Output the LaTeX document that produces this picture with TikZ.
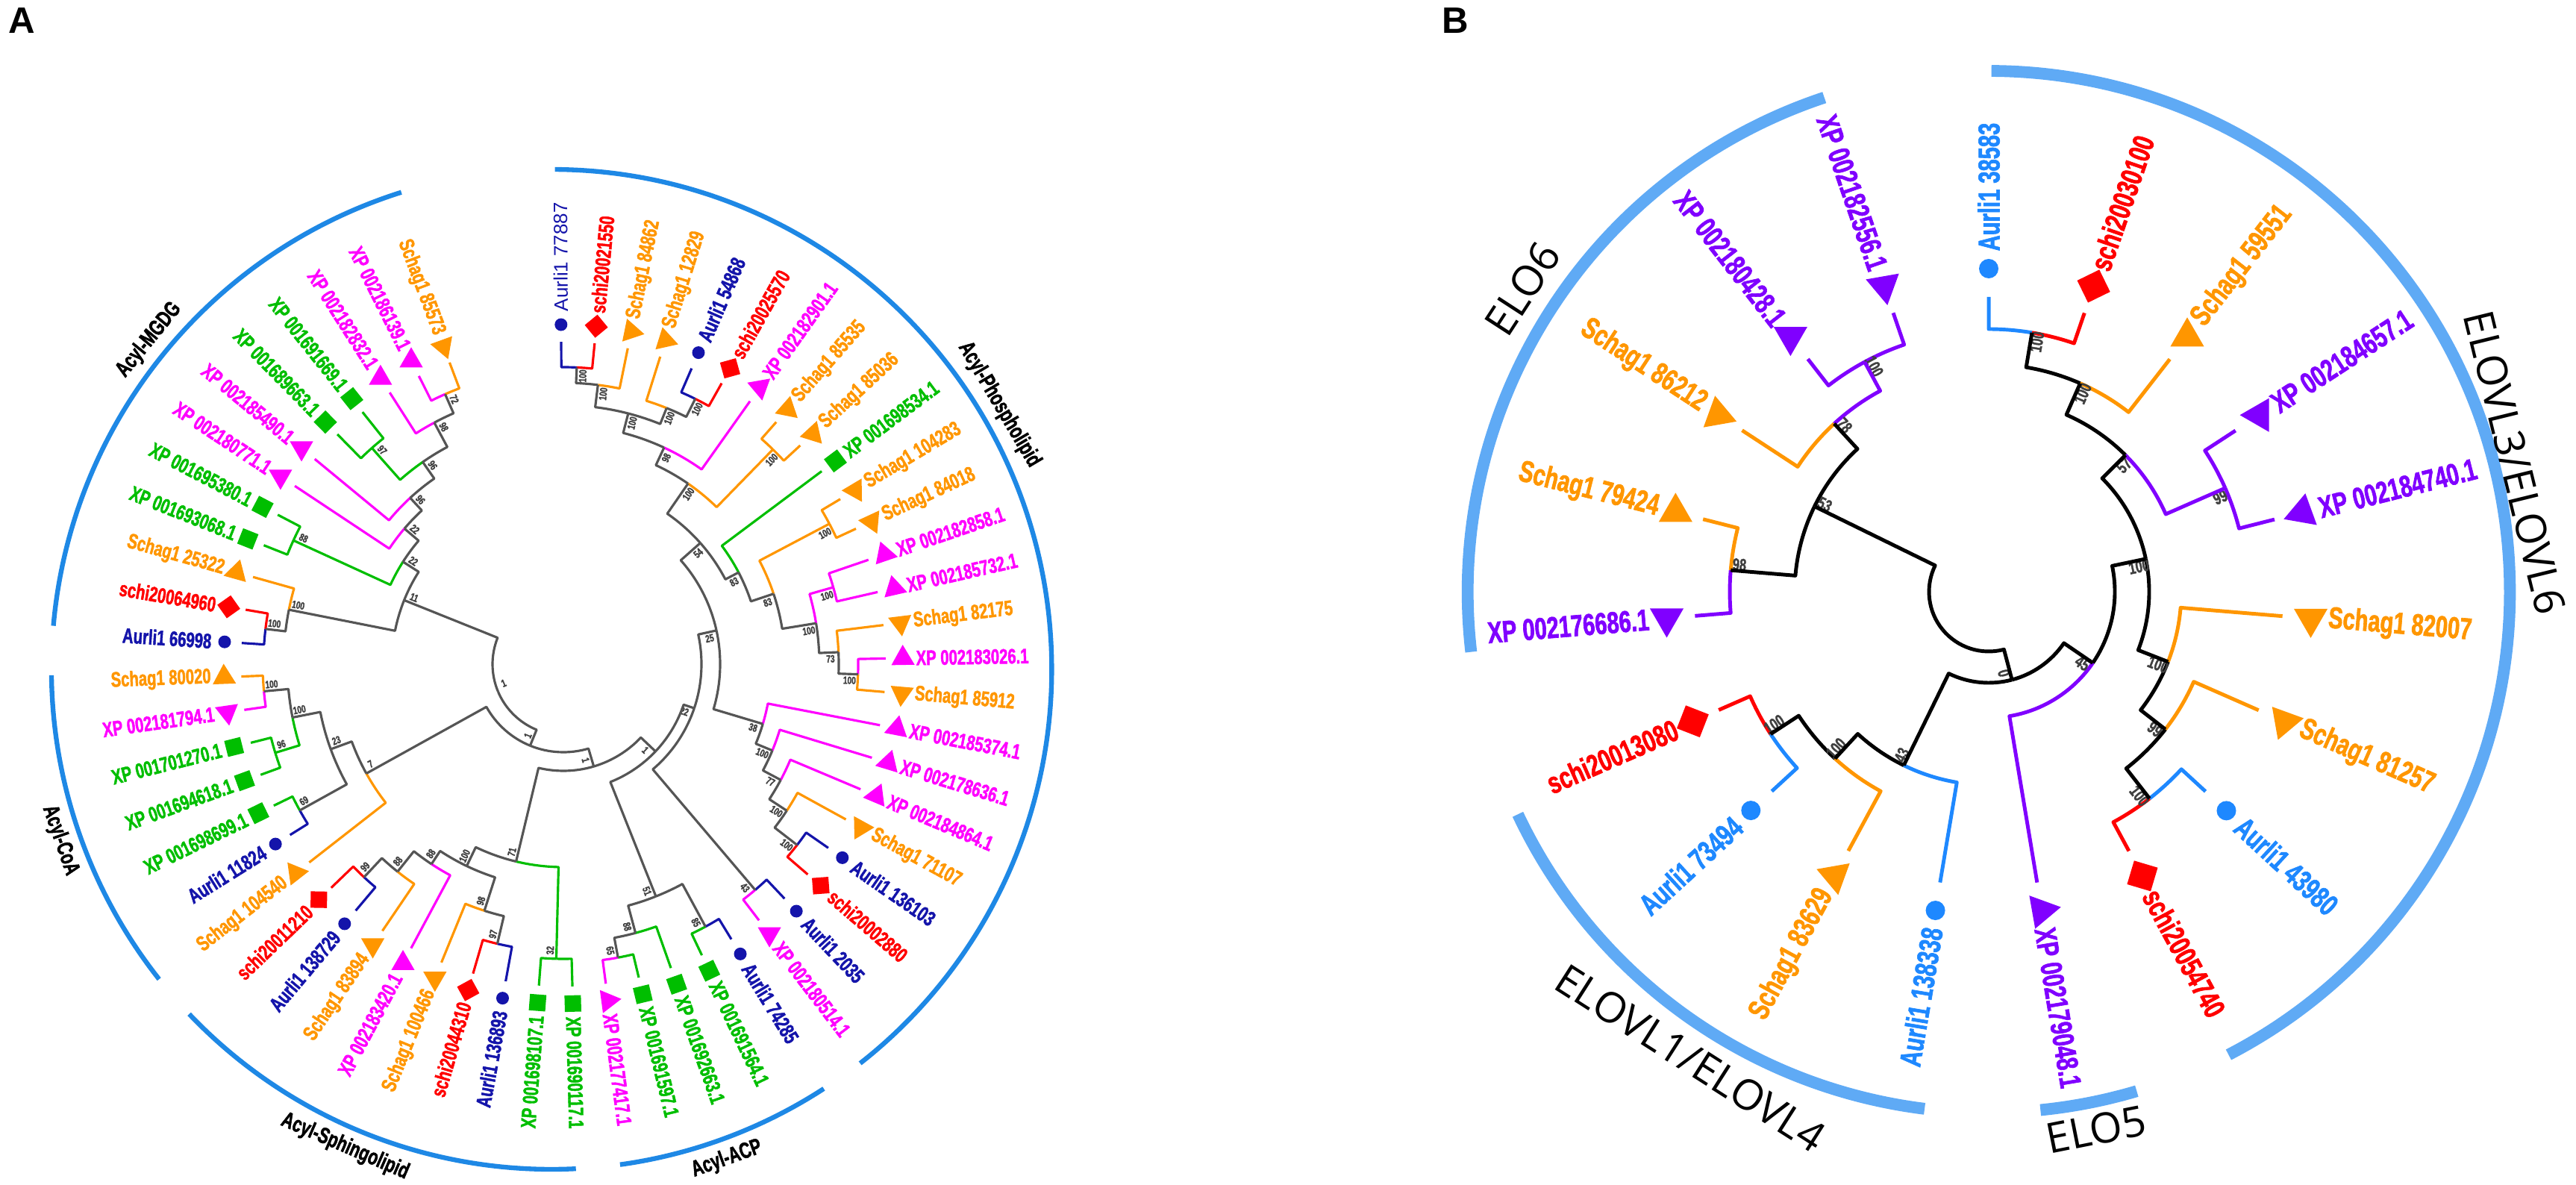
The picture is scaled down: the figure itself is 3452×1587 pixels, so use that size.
\documentclass[tikz,border=0pt]{standalone}
\usepackage{fontspec}
\usetikzlibrary{shapes.geometric}
\newfontfamily\lf[FakeStretch=0.72, BoldFeatures={FakeBold=1.6}]{Liberation Sans}
\newfontfamily\rfont{Liberation Sans}
\newfontfamily\of{Open Sans}

\definecolor{nb}{RGB}{20,20,170}
\definecolor{rd}{RGB}{255,0,0}
\definecolor{og}{RGB}{255,150,0}
\definecolor{mg}{RGB}{255,0,255}
\definecolor{gn}{RGB}{0,190,0}
\definecolor{gy}{RGB}{85,85,85}
\definecolor{k}{RGB}{0,0,0}
\definecolor{bb}{RGB}{30,136,255}
\definecolor{pu}{RGB}{128,0,255}
\definecolor{barA}{RGB}{30,136,229}
\definecolor{barB}{RGB}{95,170,245}

\tikzset{
  dot/.style={circle, inner sep=0pt, minimum size=0.17cm},
  sq/.style={rectangle, inner sep=0pt, minimum size=0.22cm},
  tri/.style={regular polygon, regular polygon sides=3, inner sep=0pt, minimum size=0.36cm},
  lab/.style={inner sep=0pt, font=\lf\bfseries\fontsize{8}{8}\selectfont},
  bs/.style={inner sep=0pt, text=black!75, font=\lf\bfseries\fontsize{4}{4}\selectfont},
  br/.style={line width=0.9pt, line join=round},
  cbar/.style={line width=1.8pt},
  clab/.style={inner sep=0pt, font=\lf\bfseries\fontsize{8.5}{8.5}\selectfont}
}

% node: radius, angle1, r1, colour1, angle2, r2, colour2, bootstrap, name
\newcommand\nd[9]{%
  \pgfmathsetmacro\ndm{(#2+#5)/2}%
  \expandafter\xdef\csname nd@#9\endcsname{\ndm}%
  \draw[br,#4] (#2:#3) -- (#2:#1) arc[start angle=#2,end angle=\ndm,radius=#1*0.01cm];
  \draw[br,#7] (#5:#6) -- (#5:#1) arc[start angle=#5,end angle=\ndm,radius=#1*0.01cm];
  \pgfmathsetmacro\ndr{cos(\ndm)<0 ? \ndm+180 : \ndm}%
  \node[bs,rotate=\ndr] at ({\ndm-500/#1}:{#1-11}) {#8};
}
\newcommand\n[1]{\csname nd@#1\endcsname}
\newcommand\La[1]{\csname a@#1\endcsname}
\newcommand\Lb[1]{\csname b@#1\endcsname}

\begin{document}
\begin{tikzpicture}[x=0.01cm,y=0.01cm]
\useasboundingbox (0,0) rectangle (3452,1587);
\foreach \i in {1,...,58}{\pgfmathsetmacro\t{90.4-5.96*(\i-1)}\expandafter\xdef\csname a@\i\endcsname{\t}}
\foreach \i in {1,...,19}{\pgfmathsetmacro\t{90-18.95*(\i-1)}\expandafter\xdef\csname b@\i\endcsname{\t}}

\node[font=\rfont\bfseries\fontsize{14}{14}\selectfont] (pa) at (29,1559) {A};
\node[font=\rfont\bfseries\fontsize{14}{14}\selectfont] (pb) at (1950,1559) {B};

% ---- panel A ----
\begin{scope}[shift={(755,697)}]
% Acyl-Phospholipid
\nd{398}{\La{1}}{432}{nb}{\La{2}}{432}{rd}{100}{p12}
\nd{377}{\n{p12}}{398}{gy}{\La{3}}{432}{og}{100}{p123}
\nd{397}{\La{5}}{432}{nb}{\La{6}}{432}{rd}{100}{p56}
\nd{370}{\La{4}}{432}{og}{\n{p56}}{397}{gy}{100}{p456}
\nd{347}{\n{p123}}{377}{gy}{\n{p456}}{370}{gy}{100}{p3}
\nd{320}{\n{p3}}{347}{gy}{\La{7}}{432}{mg}{98}{p4}
\nd{402}{\La{8}}{432}{og}{\La{9}}{432}{og}{100}{p89}
\nd{294}{\n{p4}}{320}{gy}{\n{p89}}{402}{og}{100}{p5}
\nd{395}{\La{16}}{432}{mg}{\La{17}}{432}{og}{100}{q1617}
\nd{369}{\La{15}}{432}{og}{\n{q1617}}{395}{gy}{73}{q15}
\nd{376}{\La{13}}{432}{mg}{\La{14}}{432}{mg}{100}{q1314}
\nd{343}{\n{q1314}}{376}{mg}{\n{q15}}{369}{gy}{100}{q3}
\nd{403}{\La{11}}{432}{og}{\La{12}}{432}{og}{100}{q1112}
\nd{297}{\n{q1112}}{403}{og}{\n{q3}}{343}{gy}{83}{q2}
\nd{265}{\La{10}}{432}{gn}{\n{q2}}{297}{gy}{83}{q1}
\nd{245}{\n{p5}}{294}{gy}{\n{q1}}{265}{gy}{54}{n54}
\nd{396}{\La{22}}{432}{nb}{\La{23}}{432}{rd}{100}{l2223}
\nd{358}{\La{21}}{432}{og}{\n{l2223}}{396}{gy}{100}{l21}
\nd{330}{\La{20}}{432}{mg}{\n{l21}}{358}{gy}{77}{l20}
\nd{303}{\La{19}}{432}{mg}{\n{l20}}{330}{gy}{100}{l19}
\nd{279}{\La{18}}{432}{mg}{\n{l19}}{303}{gy}{38}{l18}
\nd{210}{\n{n54}}{245}{gy}{\n{l18}}{279}{gy}{25}{n25}
\nd{397}{\La{24}}{432}{nb}{\La{25}}{432}{mg}{43}{l2425}
\nd{185}{\n{n25}}{210}{gy}{\n{l2425}}{397}{gy}{22}{n22}
% Acyl-ACP
\nd{400}{\La{29}}{432}{gn}{\La{30}}{432}{mg}{65}{c2930}
\nd{373}{\La{28}}{432}{gn}{\n{c2930}}{400}{gy}{88}{c28}
\nd{400}{\La{26}}{432}{nb}{\La{27}}{432}{gn}{85}{c2627}
\nd{335}{\n{c2627}}{400}{gy}{\n{c28}}{373}{gy}{51}{c51}
\nd{170}{\n{c51}}{335}{gy}{\n{n22}}{185}{gy}{1}{d}
% Acyl-Sphingolipid
\nd{391}{\La{38}}{432}{nb}{\La{39}}{432}{rd}{99}{s3839}
\nd{356}{\La{37}}{432}{og}{\n{s3839}}{391}{gy}{88}{s37}
\nd{321}{\La{36}}{432}{mg}{\n{s37}}{356}{gy}{88}{s36}
\nd{385}{\La{33}}{432}{nb}{\La{34}}{432}{rd}{97}{s3334}
\nd{347}{\La{35}}{432}{og}{\n{s3334}}{385}{gy}{98}{s35}
\nd{300}{\n{s36}}{321}{gy}{\n{s35}}{347}{gy}{100}{s1}
\nd{395}{\La{31}}{432}{gn}{\La{32}}{432}{gn}{32}{s3132}
\nd{272}{\n{s1}}{300}{gy}{\n{s3132}}{395}{gn}{71}{s71}
\nd{143}{\n{s71}}{272}{gy}{\n{d}}{170}{gy}{1}{c}
% Acyl-CoA
\nd{403}{\La{45}}{432}{mg}{\La{46}}{432}{og}{100}{k4546}
\nd{404}{\La{43}}{432}{gn}{\La{44}}{432}{gn}{96}{k4344}
\nd{370}{\n{k4344}}{404}{gn}{\n{k4546}}{403}{gy}{100}{k1}
\nd{404}{\La{41}}{432}{nb}{\La{42}}{432}{gn}{69}{k4142}
\nd{332}{\n{k4142}}{404}{gy}{\n{k1}}{370}{gy}{23}{k2}
\nd{302}{\La{40}}{432}{og}{\n{k2}}{332}{gy}{7}{k3}
\nd{118}{\n{k3}}{302}{gy}{\n{c}}{143}{gy}{1}{b}
% Acyl-MGDG
\nd{395}{\La{57}}{432}{mg}{\La{58}}{432}{og}{72}{m5758}
\nd{367}{\La{56}}{432}{mg}{\n{m5758}}{395}{gy}{98}{m56}
\nd{387}{\La{54}}{432}{gn}{\La{55}}{432}{gn}{97}{m5455}
\nd{330}{\n{m5455}}{387}{gn}{\n{m56}}{367}{gy}{96}{m4}
\nd{303}{\La{53}}{432}{mg}{\n{m4}}{330}{gy}{96}{m3}
\nd{280}{\La{52}}{432}{mg}{\n{m3}}{303}{gy}{22}{m2}
\nd{398}{\La{50}}{432}{gn}{\La{51}}{432}{gn}{88}{m5051}
\nd{255}{\n{m5051}}{398}{gn}{\n{m2}}{280}{gy}{22}{m1}
\nd{402}{\La{47}}{432}{nb}{\La{48}}{432}{rd}{100}{g4748}
\nd{375}{\n{g4748}}{402}{gy}{\La{49}}{432}{og}{100}{g49}
\nd{230}{\n{g49}}{375}{gy}{\n{m1}}{255}{gy}{11}{mm}
\nd{95}{\n{b}}{118}{gy}{\n{mm}}{230}{gy}{1}{root}

\foreach \i/\t/\c/\m/\p in {
  1/{\rfont\mdseries\fontsize{7.4}{7.4}\selectfont Aurli1 77887}/nb/dot/0,
  2/schi20021550/rd/sq/\a+45, 3/Schag1 84862/og/tri/\a-180, 4/Schag1 12829/og/tri/\a-180,
  5/Aurli1 54868/nb/dot/0, 6/schi20025570/rd/sq/\a+45, 7/XP 002182901.1/mg/tri/-170,
  8/Schag1 85535/og/tri/\a-180, 9/Schag1 85036/og/tri/\a-180, 10/XP 001698534.1/gn/sq/\a,
  11/Schag1 104283/og/tri/\a-180, 12/Schag1 84018/og/tri/\a-180, 13/XP 002182858.1/mg/tri/\a,
  14/XP 002185732.1/mg/tri/\a, 15/Schag1 82175/og/tri/\a-180, 16/XP 002183026.1/mg/tri/\a,
  17/Schag1 85912/og/tri/\a-180, 18/XP 002185374.1/mg/tri/\a, 19/XP 002178636.1/mg/tri/\a,
  20/XP 002184864.1/mg/tri/\a, 21/Schag1 71107/og/tri/\a-180, 22/Aurli1 136103/nb/dot/0,
  23/schi20002880/rd/sq/\a+45, 24/Aurli1 2035/nb/dot/0, 25/XP 002180514.1/mg/tri/180,
  26/Aurli1 74285/nb/dot/0, 27/XP 001691564.1/gn/sq/\a, 28/XP 001692663.1/gn/sq/\a,
  29/XP 001691597.1/gn/sq/\a, 30/XP 002177417.1/mg/tri/\a, 31/XP 001690117.1/gn/sq/\a,
  32/XP 001698107.1/gn/sq/\a, 33/Aurli1 136893/nb/dot/0, 34/schi20044310/rd/sq/\a+45,
  35/Schag1 100466/og/tri/180, 36/XP 002183420.1/mg/tri/0, 37/Schag1 83894/og/tri/180,
  38/Aurli1 138729/nb/dot/0, 39/schi20011210/rd/sq/\a+45, 40/Schag1 104540/og/tri/\a-180,
  41/Aurli1 11824/nb/dot/0, 42/XP 001698699.1/gn/sq/\a, 43/XP 001694618.1/gn/sq/\a,
  44/XP 001701270.1/gn/sq/\a, 45/XP 002181794.1/mg/tri/\a, 46/Schag1 80020/og/tri/\a-180,
  47/Aurli1 66998/nb/dot/0, 48/schi20064960/rd/sq/\a+45, 49/Schag1 25322/og/tri/\a-180,
  50/XP 001693068.1/gn/sq/\a, 51/XP 001695380.1/gn/sq/\a, 52/XP 002180771.1/mg/tri/60,
  53/XP 002185490.1/mg/tri/60, 54/XP 001689663.1/gn/sq/\a, 55/XP 001691669.1/gn/sq/\a,
  56/XP 002182832.1/mg/tri/0, 57/XP 002186139.1/mg/tri/0, 58/Schag1 85573/og/tri/-160}{
  \pgfmathsetmacro\a{\La{\i}}
  \pgfmathsetmacro\rr{\p}
  \pgfmathtruncatemacro\lft{cos(\a)<-0.01}
  \node[\m, fill=\c, rotate=\rr] (la\i) at (\a:455) {};
  \ifnum\lft=1
    \node[lab, text=\c, anchor=east, rotate=\a+180] at (\a:472) {\t};
  \else
    \node[lab, text=\c, anchor=west, rotate=\a] at (\a:472) {\t};
  \fi
}
\end{scope}

% clade bars A
\begin{scope}[shift={(739,690)}]
\draw[cbar, barA] (89.6:670) arc[start angle=89.6, end angle=-51.9, radius=6.7cm];
\draw[cbar, barA] (-57:670) arc[start angle=-57, end angle=-82.1, radius=6.7cm];
\draw[cbar, barA] (-87.2:670) arc[start angle=-87.2, end angle=-136.4, radius=6.7cm];
\draw[cbar, barA] (-141.7:670) arc[start angle=-141.7, end angle=-179.3, radius=6.7cm];
\draw[cbar, barA] (175:670) arc[start angle=175, end angle=107.5, radius=6.7cm];
\node[clab, rotate=-59.4] (cpl) at (30.6:697) {Acyl-Phospholipid};
\node[clab, rotate=19.7] (cacp) at (-70.3:697) {Acyl-ACP};
\node[clab, rotate=-23.4] (csl) at (-113.4:697) {Acyl-Sphingolipid};
\node[clab, rotate=-70.8] (ccoa) at (-160.8:697) {Acyl-CoA};
\node[clab, rotate=50.7] (cmg) at (140.7:697) {Acyl-MGDG};
\end{scope}

% ---- panel B ----
\begin{scope}[shift={(2665,794)},
  dot/.style={circle, inner sep=0pt, minimum size=0.26cm},
  sq/.style={rectangle, inner sep=0pt, minimum size=0.33cm},
  tri/.style={regular polygon, regular polygon sides=3, inner sep=0pt, minimum size=0.52cm},
  lab/.style={inner sep=0pt, font=\lf\bfseries\fontsize{11.5}{11.5}\selectfont},
  bs/.style={inner sep=0pt, text=black!75, font=\lf\bfseries\fontsize{6.5}{6.5}\selectfont},
  br/.style={line width=1.4pt, line join=round}]
\nd{352}{\Lb{1}}{395}{bb}{\Lb{2}}{395}{rd}{100}{b12}
\nd{305}{\n{b12}}{352}{k}{\Lb{3}}{395}{og}{100}{b123}
\nd{346}{\Lb{4}}{395}{pu}{\Lb{5}}{395}{pu}{99}{b45}
\nd{259}{\n{b123}}{305}{k}{\n{b45}}{346}{pu}{57}{b57}
\nd{351}{\Lb{8}}{395}{bb}{\Lb{9}}{395}{rd}{100}{b89}
\nd{300}{\Lb{7}}{395}{og}{\n{b89}}{351}{k}{99}{b7}
\nd{258}{\Lb{6}}{395}{og}{\n{b7}}{300}{k}{100}{b6}
\nd{215}{\n{b57}}{259}{k}{\n{b6}}{258}{k}{100}{bx}
\nd{169}{\n{bx}}{215}{k}{\Lb{10}}{395}{pu}{45}{by}
\nd{349}{\Lb{13}}{395}{bb}{\Lb{14}}{395}{rd}{100}{b1314}
\nd{304}{\Lb{12}}{395}{og}{\n{b1314}}{349}{k}{100}{b12x}
\nd{259}{\Lb{11}}{395}{bb}{\n{b12x}}{304}{k}{43}{bw}
\nd{122}{\n{by}}{169}{k}{\n{bw}}{259}{k}{0}{bz}
\nd{347}{\Lb{15}}{395}{pu}{\Lb{16}}{395}{og}{98}{b1516}
\nd{350}{\Lb{18}}{395}{pu}{\Lb{19}}{395}{pu}{100}{b1819}
\nd{306}{\Lb{17}}{395}{og}{\n{b1819}}{350}{pu}{78}{b17}
\nd{260}{\n{b1516}}{347}{k}{\n{b17}}{306}{k}{53}{b53}
\nd{80}{\n{bz}}{122}{k}{\n{b53}}{260}{k}{}{broot}

\foreach \i/\t/\c/\m/\p in {
  1/Aurli1 38583/bb/dot/0, 2/schi20030100/rd/sq/\a+45, 3/Schag1 59551/og/tri/0,
  4/XP 002184657.1/pu/tri/-30, 5/XP 002184740.1/pu/tri/-10, 6/Schag1 82007/og/tri/180,
  7/Schag1 81257/og/tri/160, 8/Aurli1 43980/bb/dot/0, 9/schi20054740/rd/sq/\a+45,
  10/XP 002179048.1/pu/tri/-80, 11/Aurli1 138338/bb/dot/0, 12/Schag1 83629/og/tri/190,
  13/Aurli1 73494/bb/dot/0, 14/schi20013080/rd/sq/\a+45, 15/XP 002176686.1/pu/tri/180,
  16/Schag1 79424/og/tri/0, 17/Schag1 86212/og/tri/10, 18/XP 002180428.1/pu/tri/60,
  19/XP 002182556.1/pu/tri/190}{
  \pgfmathsetmacro\a{\Lb{\i}}
  \pgfmathsetmacro\rr{\p}
  \pgfmathtruncatemacro\lft{cos(\a)<-0.01}
  \node[\m, fill=\c, rotate=\rr] (lb\i) at (\a:433) {};
  \ifnum\lft=1
    \node[lab, text=\c, anchor=east, rotate=\a+180] at (\a:456) {\t};
  \else
    \node[lab, text=\c, anchor=west, rotate=\a] at (\a:456) {\t};
  \fi
}

% clade bars B
\draw[line width=4.5pt, barB] (108.4:698) arc[start angle=108.4, end angle=186.6, radius=6.98cm];
\draw[line width=4.5pt, barB] (205.3:698) arc[start angle=205.3, end angle=262.9, radius=6.98cm];
\draw[line width=4.5pt, barB] (-84.3:698) arc[start angle=-84.3, end angle=-73.5, radius=6.98cm];
\draw[line width=4.5pt, barB] (89.7:698) arc[start angle=89.7, end angle=-62.6, radius=6.98cm];
\node[font=\of\fontsize{16}{16}\selectfont, rotate=57] (elo6) at (147:745) {ELO6};
\node[font=\of\fontsize{16}{16}\selectfont, rotate=-32.6] (elovl14) at (237.4:742) {ELOVL1/ELOVL4};
\node[font=\of\fontsize{16}{16}\selectfont, rotate=11.3] (elo5) at (-78.7:735) {ELO5};
\node[font=\of\fontsize{16}{16}\selectfont, rotate=-76.2] (elovl36) at (13.8:726) {ELOVL3/ELOVL6};
\end{scope}
\end{tikzpicture}
\end{document}
